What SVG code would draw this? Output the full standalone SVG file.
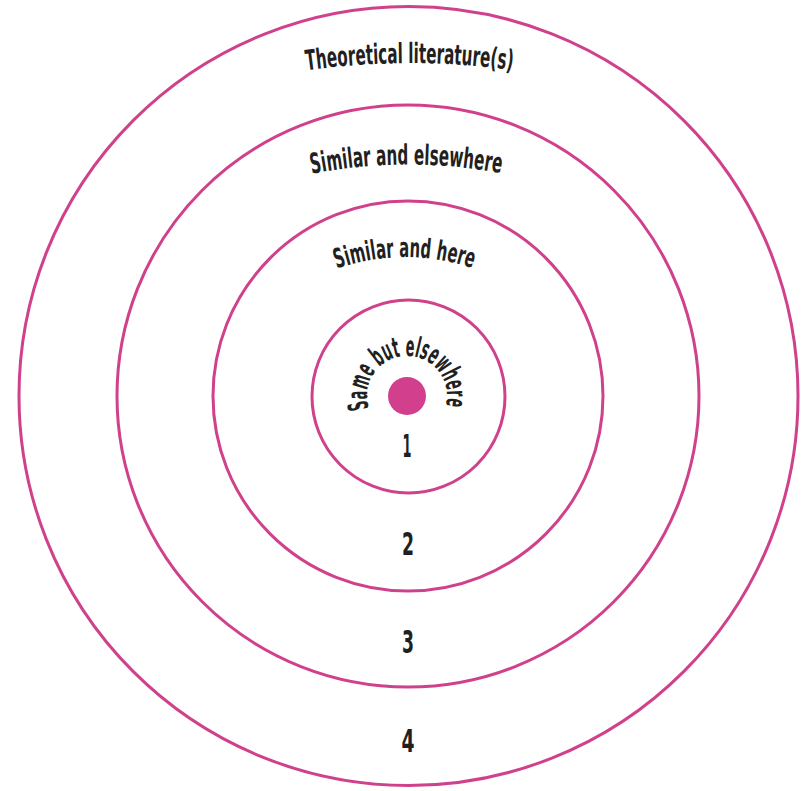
<svg xmlns="http://www.w3.org/2000/svg" xmlns:xlink="http://www.w3.org/1999/xlink" width="805" height="791" viewBox="0 0 805 791">
<style>
.ring{fill:none;stroke:#d0418c;stroke-width:3}
.lbl{font-family:"DejaVu Sans Condensed","DejaVu Sans","Liberation Sans",sans-serif;font-stretch:condensed;font-weight:bold;fill:#231f20}
</style>
<defs>
<path id="p4" d="M295,72 A750,750 0 0 1 525,72"/>
<path id="p3" d="M306,175 A500,500 0 0 1 510,175"/>
<path id="p2" d="M333,270 A210,210 0 0 1 478,270"/>
<path id="p1" d="M369,408.4 A40,40 0 1 1 445,408.4"/>
</defs>
<rect width="805" height="791" fill="#ffffff"/>
<g id="ring4"><circle class="ring" cx="408.5" cy="396" r="389.5"/>
<text class="lbl" font-size="28"><textPath xlink:href="#p4" href="#p4" startOffset="12" textLength="206" lengthAdjust="spacingAndGlyphs">Theoretical literature(s)</textPath></text>
<text class="lbl" font-size="32" x="408" y="752" text-anchor="middle" textLength="13" lengthAdjust="spacingAndGlyphs">4</text></g>
<g id="ring3"><circle class="ring" cx="408" cy="396" r="291"/>
<text class="lbl" font-size="28"><textPath xlink:href="#p3" href="#p3" startOffset="6" textLength="190" lengthAdjust="spacingAndGlyphs">Similar and elsewhere</textPath></text>
<text class="lbl" font-size="32" x="408" y="653" text-anchor="middle" textLength="12" lengthAdjust="spacingAndGlyphs">3</text></g>
<g id="ring2"><circle class="ring" cx="408" cy="396" r="195"/>
<text class="lbl" font-size="27"><textPath xlink:href="#p2" href="#p2" startOffset="4" textLength="138" lengthAdjust="spacingAndGlyphs">Similar and here</textPath></text>
<text class="lbl" font-size="32" x="408" y="555" text-anchor="middle" textLength="12" lengthAdjust="spacingAndGlyphs">2</text></g>
<g id="ring1"><circle class="ring" cx="408.5" cy="396.5" r="96.5"/>
<text class="lbl" font-size="28"><textPath xlink:href="#p1" href="#p1" startOffset="0" textLength="148" lengthAdjust="spacingAndGlyphs">Same but elsewhere</textPath></text>
<text class="lbl" font-size="32" x="407" y="457" text-anchor="middle" textLength="9" lengthAdjust="spacingAndGlyphs">1</text></g>
<g id="center"><circle cx="407" cy="396" r="19" fill="#d23f8d"/></g>
</svg>
